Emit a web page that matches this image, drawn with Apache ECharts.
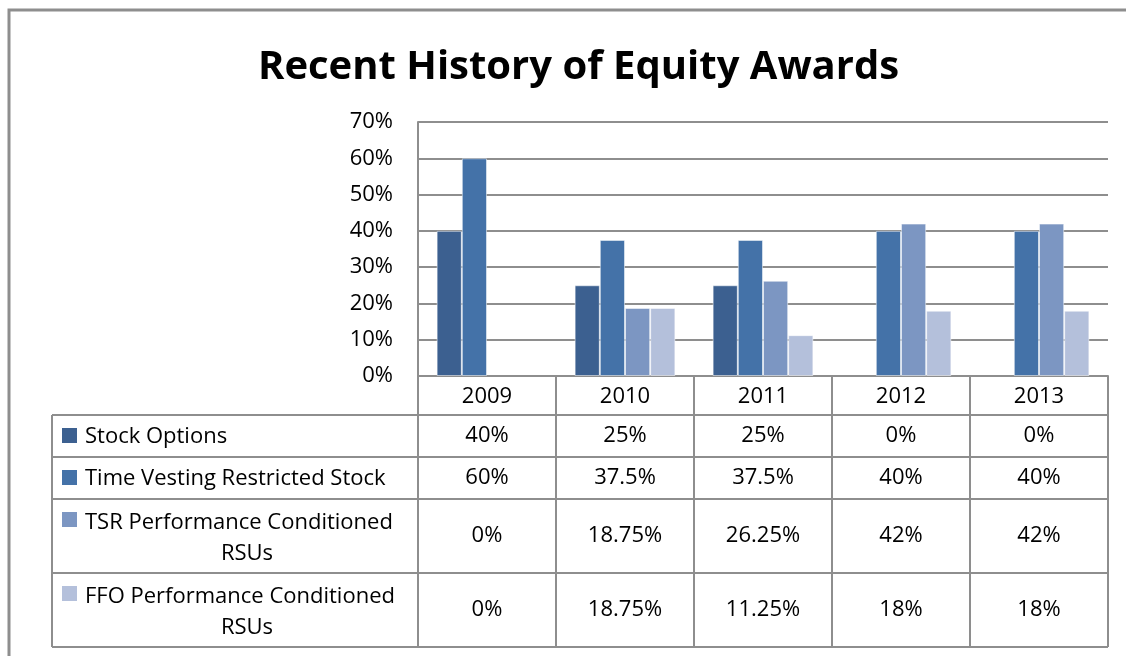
<!DOCTYPE html>
<html>
<head>
<meta charset="utf-8"/>
<style>
html,body{margin:0;padding:0;background:#fff;}
#main{width:1126px;height:656px;}
</style>
</head>
<body>
<div id="main"></div>
<script src="https://cdn.jsdelivr.net/npm/echarts@6/dist/echarts.min.js"></script>
<script type="text/javascript">
// data
var years = ['2009', '2010', '2011', '2012', '2013'];
var stockOptions = [40, 25, 25, 0, 0];
var timeVesting = [60, 37.5, 37.5, 40, 40];
var tsrRsus = [0, 18.75, 26.25, 42, 42];
var ffoRsus = [0, 18.75, 11.25, 18, 18];
var seriesNames = ['Stock Options', 'Time Vesting Restricted Stock', 'TSR Performance Conditioned RSUs', 'FFO Performance Conditioned RSUs'];
// how the legend column wraps the names
var rowLabelLines = [['Stock Options'], ['Time Vesting Restricted Stock'], ['TSR Performance Conditioned', 'RSUs'], ['FFO Performance Conditioned', 'RSUs']];
var yMax = 70, yStep = 10;

// look
var colors = ['#3C6090', '#4472A8', '#7C96C2', '#B4C0DB'];
var lineColor = '#8E8E8E';
var font = 'Open Sans';
var fs = 22;

var allSeries = [stockOptions, timeVesting, tsrRsus, ffoRsus];

// table layout (pixels)
var plotLeft = 418, plotRight = 1108, plotTop = 122, plotBottom = 376;
var tableLeft = 52, tableBottom = 647;
var rowTops = [415, 457, 499, 573];
var headerMid = 397;

var myChart = echarts.init(document.getElementById('main'));

function rowMid(i) {
  var bottom = i < rowTops.length - 1 ? rowTops[i + 1] : tableBottom;
  return (rowTops[i] + bottom) / 2;
}

var xAxes = [{
  type: 'category',
  data: years,
  gridIndex: 0,
  position: 'bottom',
  axisLine: { show: true, lineStyle: { color: lineColor, width: 2 } },
  axisTick: { show: true, length: tableBottom - plotBottom, lineStyle: { color: lineColor, width: 2 } },
  axisLabel: { margin: headerMid - plotBottom, verticalAlign: 'middle', fontFamily: font, fontSize: fs, color: '#000' }
}];
// one extra hidden axis per table row, its labels are the cell values
allSeries.forEach(function (vals, i) {
  xAxes.push({
    type: 'category',
    data: vals.map(function (v) { return v + '%'; }),
    gridIndex: 0,
    position: 'bottom',
    offset: rowMid(i) - plotBottom,
    axisLine: { show: false },
    axisTick: { show: false },
    axisLabel: { margin: 0, verticalAlign: 'middle', fontFamily: font, fontSize: fs, color: '#000' }
  });
});

var txtFont = fs + 'px "' + font + '"';
var graphics = [
  // outer frame (cut by the window on the right and bottom)
  { type: 'polyline', shape: { points: [[9, 656], [9, 10], [1126, 10]] }, style: { stroke: lineColor, lineWidth: 3, fill: null } },
  // table left border
  { type: 'line', shape: { x1: tableLeft, y1: rowTops[0], x2: tableLeft, y2: tableBottom }, style: { stroke: lineColor, lineWidth: 2 } }
];
rowTops.concat([tableBottom]).forEach(function (y) {
  graphics.push({ type: 'line', shape: { x1: tableLeft, y1: y, x2: plotRight, y2: y }, style: { stroke: lineColor, lineWidth: 2 } });
});
rowLabelLines.forEach(function (lines, i) {
  var top = rowTops[i];
  graphics.push({ type: 'rect', shape: { x: 62, y: top + 13, width: 15, height: 15 }, style: { fill: colors[i] } });
  if (lines.length === 1) {
    graphics.push({ type: 'text', x: 85, y: rowMid(i) + 1, style: { text: lines[0], font: txtFont, fill: '#000', verticalAlign: 'middle', align: 'left' } });
  } else {
    graphics.push({ type: 'text', x: 85, y: top + 24, style: { text: lines[0], font: txtFont, fill: '#000', verticalAlign: 'middle', align: 'left' } });
    graphics.push({ type: 'text', x: 247, y: top + 55, style: { text: lines[1], font: txtFont, fill: '#000', verticalAlign: 'middle', align: 'center' } });
  }
});

var options = {
  animation: false,
  backgroundColor: '#fff',
  title: {
    text: 'Recent History of Equity Awards',
    left: 253,
    top: 43,
    textStyle: { fontFamily: font, fontWeight: 'bold', fontSize: 40, color: '#000' }
  },
  grid: { left: plotLeft, right: 1126 - plotRight, top: plotTop, bottom: 656 - plotBottom, containLabel: false },
  xAxis: xAxes,
  yAxis: {
    type: 'value',
    min: 0,
    max: yMax,
    interval: yStep,
    axisLine: { show: true, lineStyle: { color: lineColor, width: 2 } },
    axisTick: { show: false },
    axisLabel: { formatter: '{value}%', margin: 25, fontFamily: font, fontSize: fs, color: '#000' },
    splitLine: { show: true, lineStyle: { color: lineColor, width: 2 } }
  },
  series: allSeries.map(function (vals, i) {
    return {
      name: seriesNames[i],
      type: 'bar',
      xAxisIndex: 0,
      data: vals.map(function (v) {
        return v === 0 ? { value: v, itemStyle: { borderWidth: 0 } } : v;
      }),
      barGap: '0%',
      barCategoryGap: '27%',
      itemStyle: { color: colors[i], borderColor: 'rgba(255,255,255,0.5)', borderWidth: 1 }
    };
  }),
  graphic: graphics
};
myChart.setOption(options);
</script>
</body>
</html>
